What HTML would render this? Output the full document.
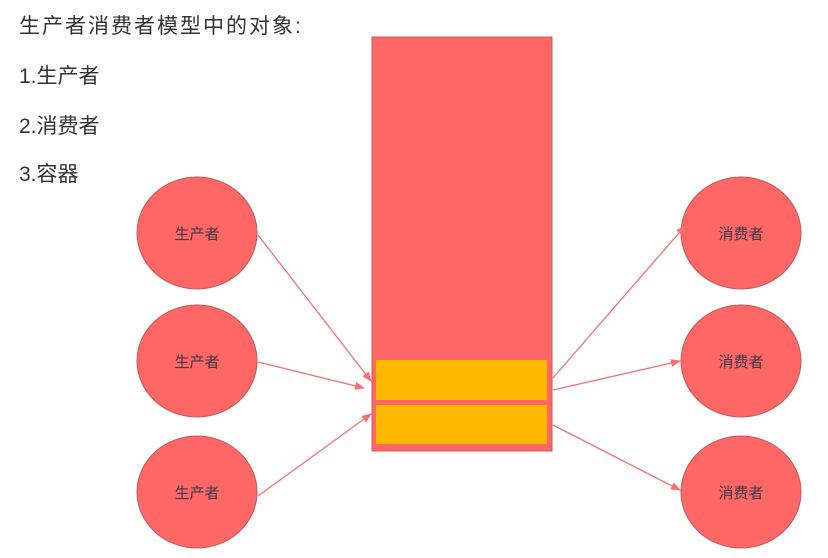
<!DOCTYPE html>
<html><head><meta charset="utf-8"><style>
body{margin:0;background:#fff;width:828px;height:558px;overflow:hidden;font-family:"Liberation Sans","Noto Sans CJK SC",sans-serif}
.t{position:absolute;left:19px;font-size:21px;color:#333;white-space:nowrap}
</style></head><body>
<div class="t" style="top:10px;letter-spacing:2px">生产者消费者模型中的对象:</div>
<div class="t" style="top:60px">1.生产者</div>
<div class="t" style="top:110px">2.消费者</div>
<div class="t" style="top:158px">3.容器</div>
<svg width="828" height="558" style="position:absolute;left:0;top:0">
<defs><marker id="a" markerWidth="10" markerHeight="8" refX="9" refY="4" orient="auto" markerUnits="userSpaceOnUse"><path d="M0,0L10,4L0,8z" fill="#f87070"/></marker></defs>
<rect x="372" y="37" width="180" height="414" fill="#ff6666" stroke="#d05858"/>
<rect x="376" y="360" width="171" height="40" fill="#ffb800"/>
<rect x="376" y="405" width="171" height="39" fill="#ffb800"/>
<g fill="#ff6666" stroke="#c05a5a">
<ellipse cx="197" cy="233" rx="60" ry="56"/>
<ellipse cx="197" cy="361" rx="60" ry="56"/>
<ellipse cx="197" cy="492" rx="60" ry="56"/>
<ellipse cx="741" cy="233" rx="60" ry="56"/>
<ellipse cx="741" cy="361" rx="60" ry="56"/>
<ellipse cx="741" cy="492" rx="60" ry="56"/>
</g>
<g stroke="#f87070" stroke-width="1.3" marker-end="url(#a)">
<line x1="258" y1="235" x2="371" y2="381"/>
<line x1="258" y1="362" x2="364" y2="388"/>
<line x1="258" y1="496" x2="371" y2="414"/>
<line x1="553" y1="378" x2="685" y2="226"/>
<line x1="553" y1="390" x2="680" y2="361"/>
<line x1="553" y1="425" x2="680" y2="490"/>
</g>
<g font-family="Liberation Sans,Noto Sans CJK SC,sans-serif" font-size="15" fill="#3a3a4a" text-anchor="middle">
<text x="197" y="239">生产者</text>
<text x="197" y="367">生产者</text>
<text x="197" y="498">生产者</text>
<text x="741" y="239">消费者</text>
<text x="741" y="367">消费者</text>
<text x="741" y="498">消费者</text>
</g>
</svg>
</body></html>
